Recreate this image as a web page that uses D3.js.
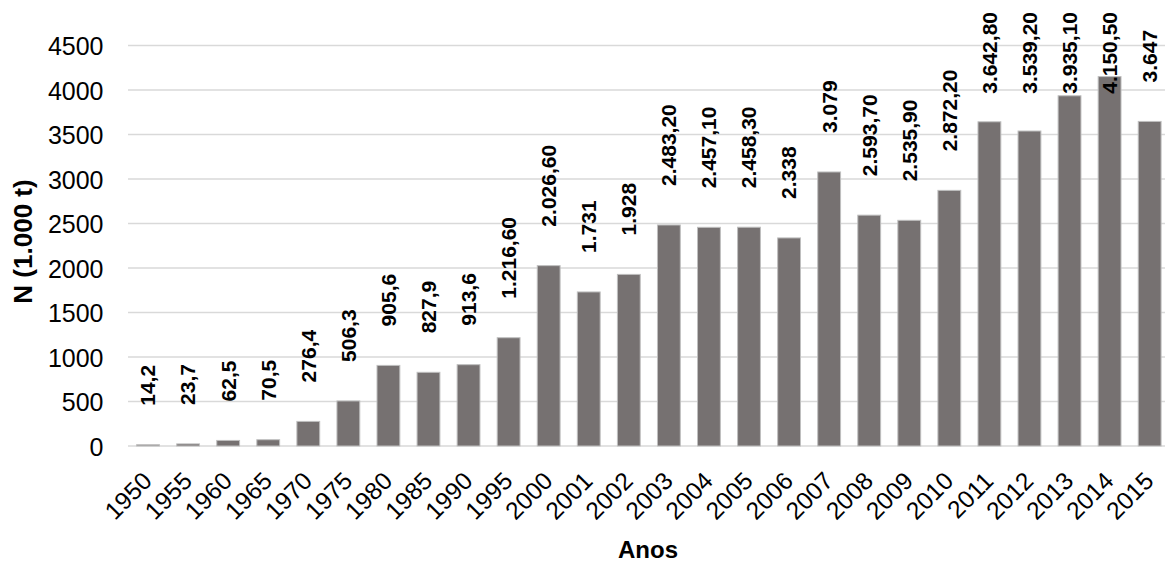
<!DOCTYPE html>
<html>
<head>
<meta charset="utf-8">
<script src="https://cdn.jsdelivr.net/npm/d3@7"></script>
<style>
  html, body { margin: 0; padding: 0; background: #fff; }
  svg { display: block; font-family: "Liberation Sans", Arial, sans-serif; }
</style>
</head>
<body>
<svg id="chart" width="1165" height="562"></svg>
<script>
// Nitrogen use per year (thousand tonnes)
const years = ["1950","1955","1960","1965","1970","1975","1980","1985","1990","1995","2000","2001","2002","2003","2004","2005","2006","2007","2008","2009","2010","2011","2012","2013","2014","2015"];
const values = [14.2, 23.7, 62.5, 70.5, 276.4, 506.3, 905.6, 827.9, 913.6, 1216.6, 2026.6, 1731, 1928, 2483.2, 2457.1, 2458.3, 2338, 3079, 2593.7, 2535.9, 2872.2, 3642.8, 3539.2, 3935.1, 4150.5, 3647];
const valueLabels = ["14,2","23,7","62,5","70,5","276,4","506,3","905,6","827,9","913,6","1.216,60","2.026,60","1.731","1.928","2.483,20","2.457,10","2.458,30","2.338","3.079","2.593,70","2.535,90","2.872,20","3.642,80","3.539,20","3.935,10","4.150,50","3.647"];
const yTicks = [0, 500, 1000, 1500, 2000, 2500, 3000, 3500, 4000, 4500];
const yTitle = "N (1.000 t)";
const xTitle = "Anos";

const svg = d3.select("#chart");
const plot = { left: 128, right: 1169.7, top: 45.5, bottom: 446 };

const x = d3.scaleBand().domain(years).range([plot.left, plot.right])
  .paddingInner(0.43).paddingOuter(0.215);
const y = d3.scaleLinear().domain([0, 4500]).range([plot.bottom, plot.top]);

// horizontal gridlines
svg.append("g")
  .selectAll("line")
  .data(yTicks)
  .join("line")
  .attr("x1", plot.left).attr("x2", 1165)
  .attr("y1", d => y(d)).attr("y2", d => y(d))
  .attr("stroke", "#d9d9d9")
  .attr("stroke-width", 1.5);

// y axis labels
const yAxis = d3.axisLeft(y).tickValues(yTicks).tickSize(0).tickPadding(0).tickFormat(d3.format("d"));
svg.append("g")
  .attr("transform", "translate(103.5,0)")
  .call(yAxis)
  .call(g => g.select(".domain").remove())
  .selectAll("text")
  .attr("font-family", "Liberation Sans, Arial, sans-serif")
  .attr("font-size", 25)
  .attr("fill", "#000")
  .attr("dy", "0.36em");

// bars
svg.append("g")
  .selectAll("rect")
  .data(values)
  .join("rect")
  .attr("x", (d, i) => x(years[i]))
  .attr("width", x.bandwidth())
  .attr("y", d => y(d))
  .attr("height", d => y(0) - y(d))
  .attr("fill", "#767171")
  .attr("stroke", "#bfbfbf")
  .attr("stroke-width", 1);

// x axis labels, rotated
svg.append("g")
  .selectAll("text")
  .data(years)
  .join("text")
  .attr("transform", d => `translate(${x(d) + x.bandwidth() / 2 - 7},${plot.bottom + 24}) rotate(-45)`)
  .attr("text-anchor", "end")
  .attr("dy", "0.72em")
  .attr("font-size", 24.5)
  .attr("fill", "#000")
  .text(d => d);

// value labels, vertical, kept inside the top edge
const labelGap = 39;
const topLimit = 12;
const lbl = svg.append("g")
  .selectAll("text")
  .data(values)
  .join("text")
  .attr("font-size", 21)
  .attr("font-weight", "bold")
  .attr("fill", "#000")
  .attr("dy", "0.35em")
  .text((d, i) => valueLabels[i]);
lbl.each(function (d, i) {
  const len = this.getComputedTextLength();
  const base = Math.max(y(d) - labelGap, topLimit + len);
  const cx = x(years[i]) + x.bandwidth() / 2;
  d3.select(this).attr("transform", `translate(${cx},${base}) rotate(-90)`);
});

// axis titles
svg.append("text")
  .attr("transform", `translate(23,${241.5}) rotate(-90)`)
  .attr("text-anchor", "middle")
  .attr("dy", "0.35em")
  .attr("font-size", 26)
  .attr("font-weight", "bold")
  .attr("fill", "#000")
  .text(yTitle);

svg.append("text")
  .attr("x", 648)
  .attr("y", 558)
  .attr("text-anchor", "middle")
  .attr("font-size", 24)
  .attr("font-weight", "bold")
  .attr("fill", "#000")
  .text(xTitle);
</script>
</body>
</html>
